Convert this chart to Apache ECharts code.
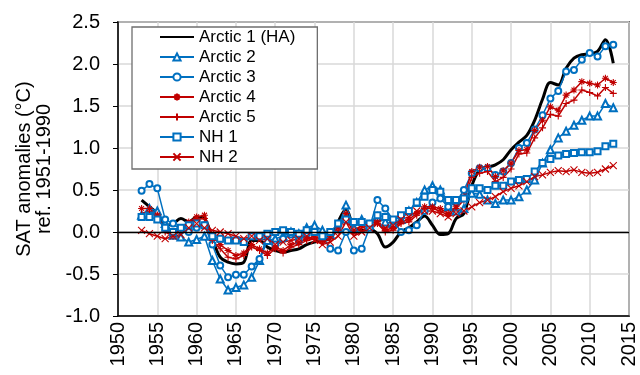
<!DOCTYPE html>
<html>
<head>
<meta charset="utf-8">
<script src="https://cdn.jsdelivr.net/npm/echarts@6/dist/echarts.min.js"></script>
<style>
  html, body { margin: 0; padding: 0; background: #fff; }
  #chart { width: 640px; height: 375px; }
</style>
</head>
<body>
<div id="chart"></div>
<script>
// Years of the annual SAT anomaly records
const years = [
  1953, 1954, 1955, 1956, 1957, 1958, 1959, 1960, 1961, 1962,
  1963, 1964, 1965, 1966, 1967, 1968, 1969, 1970, 1971, 1972,
  1973, 1974, 1975, 1976, 1977, 1978, 1979, 1980, 1981, 1982,
  1983, 1984, 1985, 1986, 1987, 1988, 1989, 1990, 1991, 1992,
  1993, 1994, 1995, 1996, 1997, 1998, 1999, 2000, 2001, 2002,
  2003, 2004, 2005, 2006, 2007, 2008, 2009, 2010, 2011, 2012, 2013
];

// Anomalies (°C) relative to 1951-1990
const arctic1 = [
  0.38, 0.30, 0.22, 0.08, 0.10, 0.16, 0.12, 0.18, 0.16, -0.08,
  -0.30, -0.36, -0.38, -0.36, -0.10, -0.10, -0.18, -0.22, -0.24, -0.22,
  -0.20, -0.15, -0.12, -0.10, -0.08, 0.12, 0.27, 0.06, 0.02, 0.03,
  -0.02, -0.18, -0.12, 0.00, 0.05, 0.12, 0.19, 0.08, -0.03, -0.02,
  0.16, 0.22, 0.55, 0.74, 0.77, 0.80, 0.86, 0.98, 1.07, 1.15,
  1.33, 1.58, 1.78, 1.75, 1.95, 2.07, 2.11, 2.12, 2.15, 2.29, 2.01
];

const arctic2 = [
  0.20, 0.28, 0.25, 0.10, -0.04, -0.06, -0.12, -0.09, -0.05, -0.34,
  -0.56, -0.69, -0.66, -0.63, -0.54, -0.34, -0.10, -0.08, -0.05, 0.00,
  -0.02, 0.05, 0.08, 0.02, -0.03, 0.05, 0.32, 0.05, 0.15, 0.08,
  0.18, 0.12, 0.10, 0.15, 0.25, 0.35, 0.50, 0.55, 0.50, 0.30,
  0.25, 0.28, 0.46, 0.45, 0.38, 0.34, 0.38, 0.38, 0.42, 0.50,
  0.62, 0.82, 0.98, 1.12, 1.20, 1.27, 1.33, 1.38, 1.38, 1.53, 1.48
];

const arctic3 = [
  0.49, 0.57, 0.52, 0.15, 0.10, 0.02, 0.00, 0.05, 0.08, -0.15,
  -0.40, -0.54, -0.51, -0.51, -0.41, -0.32, -0.05, -0.15, -0.08, -0.03,
  -0.10, -0.02, 0.00, -0.05, -0.20, -0.22, 0.00, -0.22, -0.20, 0.05,
  0.38, 0.28, 0.14, 0.00, 0.02, 0.08, 0.25, 0.35, 0.40, 0.30,
  0.35, 0.50, 0.70, 0.76, 0.76, 0.68, 0.72, 0.82, 1.00, 1.06,
  1.22, 1.39, 1.59, 1.68, 1.91, 1.93, 2.05, 2.13, 2.09, 2.21, 2.23
];

const arctic4 = [
  0.28, 0.28, 0.20, 0.02, -0.02, 0.05, 0.12, 0.18, 0.20, -0.05,
  -0.15, -0.22, -0.28, -0.25, -0.15, -0.20, -0.25, -0.18, -0.22, -0.15,
  -0.12, -0.08, -0.05, -0.10, -0.05, 0.05, 0.22, 0.02, 0.08, 0.10,
  0.12, 0.02, 0.05, 0.12, 0.15, 0.22, 0.30, 0.30, 0.28, 0.22,
  0.30, 0.42, 0.72, 0.77, 0.78, 0.66, 0.73, 0.82, 0.97, 0.98,
  1.21, 1.33, 1.49, 1.45, 1.63, 1.69, 1.79, 1.77, 1.75, 1.83, 1.78
];

const arctic5 = [
  0.22, 0.25, 0.20, 0.00, -0.05, 0.02, 0.10, 0.15, 0.16, -0.10,
  -0.20, -0.30, -0.32, -0.28, -0.18, -0.22, -0.28, -0.20, -0.25, -0.18,
  -0.15, -0.10, -0.08, -0.12, -0.08, 0.02, 0.18, -0.02, 0.05, 0.08,
  0.10, 0.00, 0.02, 0.10, 0.12, 0.20, 0.28, 0.28, 0.25, 0.20,
  0.28, 0.38, 0.65, 0.70, 0.72, 0.60, 0.65, 0.75, 0.93, 0.94,
  1.12, 1.24, 1.40, 1.38, 1.53, 1.57, 1.69, 1.66, 1.62, 1.72, 1.65
];

const nh1 = [
  0.18, 0.18, 0.15, 0.05, 0.00, 0.05, 0.08, 0.10, 0.08, -0.05,
  -0.08, -0.10, -0.10, -0.12, -0.05, -0.05, -0.02, 0.00, 0.02, 0.00,
  -0.02, 0.02, 0.00, -0.05, 0.00, 0.10, 0.15, 0.12, 0.12, 0.10,
  0.20, 0.18, 0.15, 0.20, 0.25, 0.35, 0.42, 0.50, 0.48, 0.38,
  0.38, 0.40, 0.52, 0.52, 0.50, 0.55, 0.55, 0.60, 0.62, 0.63,
  0.72, 0.82, 0.87, 0.91, 0.93, 0.94, 0.95, 0.95, 0.96, 1.02, 1.05
];

const nh2 = [
  0.02, -0.02, -0.05, -0.08, -0.05, -0.03, 0.05, 0.10, 0.05, 0.02,
  0.00, -0.02, -0.05, -0.08, -0.05, -0.10, -0.08, -0.15, -0.12, -0.10,
  -0.08, -0.05, -0.10, -0.15, -0.12, -0.05, 0.12, -0.05, 0.00, 0.05,
  0.10, 0.05, 0.08, 0.15, 0.18, 0.25, 0.25, 0.25, 0.22, 0.18,
  0.22, 0.25, 0.30, 0.35, 0.38, 0.42, 0.48, 0.52, 0.55, 0.60,
  0.66, 0.68, 0.71, 0.73, 0.72, 0.74, 0.71, 0.70, 0.71, 0.75, 0.79
];

const seriesNames = ['Arctic 1 (HA)', 'Arctic 2', 'Arctic 3', 'Arctic 4', 'Arctic 5', 'NH 1', 'NH 2'];
const xTicks = { min: 1950, max: 2015, step: 5 };
const yTicks = { min: -1.0, max: 2.5, step: 0.5 };

const BLUE = '#0070C0';
const RED = '#C00000';
const FONT = '"Liberation Sans", Arial, sans-serif';

// Stroke-only marker glyphs
const PLUS = 'path://M0,5 L10,5 M5,0 L5,10';
const CROSS = 'path://M0,0 L10,10 M10,0 L0,10';
const STAR = 'path://M0,5 L10,5 M5,0 L5,10 M1.5,1.5 L8.5,8.5 M8.5,1.5 L1.5,8.5';

function pairs(vals) {
  return years.map((y, i) => [y, vals[i]]);
}

function markerSeries(name, vals, color, symbol, size) {
  return {
    name: name,
    type: 'line',
    data: pairs(vals),
    symbol: symbol,
    symbolSize: size,
    showSymbol: true,
    lineStyle: { color: color, width: 1.5 },
    itemStyle: { color: color, borderColor: color, borderWidth: 1.1 },
    emphasis: { disabled: true }
  };
}

// Legend entries; the smooth HA curve has no marker
const legendData = seriesNames.map((n, i) =>
  i === 0 ? { name: n, itemStyle: { opacity: 0, color: 'transparent', borderWidth: 0 } } : { name: n }
);

const chart = echarts.init(document.getElementById('chart'), null, { renderer: 'canvas' });

chart.setOption({
  animation: false,
  backgroundColor: '#fff',
  textStyle: { fontFamily: FONT },
  grid: {
    left: 118, right: 11, top: 22, bottom: 59,
    show: true, borderColor: '#000', borderWidth: 1.5, backgroundColor: 'transparent'
  },
  legend: {
    orient: 'vertical',
    left: 132, top: 27,
    padding: [0, 22, 2, 27],
    itemGap: 0,
    itemWidth: 34,
    itemHeight: 9,
    backgroundColor: '#fff',
    borderColor: '#6e6e6e',
    borderWidth: 1.3,
    borderRadius: 0,
    textStyle: { fontFamily: FONT, fontSize: 17, color: '#000', lineHeight: 20 },
    data: legendData
  },
  xAxis: {
    type: 'value',
    min: xTicks.min, max: xTicks.max, interval: xTicks.step,
    axisLine: { show: true, onZero: false, lineStyle: { color: '#000', width: 1.5 } },
    axisTick: { show: false },
    splitLine: { show: true, lineStyle: { color: '#d9d9d9', width: 1.5 } },
    axisLabel: {
      rotate: 90, margin: 6, fontSize: 20, color: '#000', fontFamily: FONT,
      formatter: v => String(v)
    }
  },
  yAxis: {
    type: 'value',
    min: yTicks.min, max: yTicks.max, interval: yTicks.step,
    name: 'SAT anomalies (°C)\nref. 1951-1990',
    nameLocation: 'middle',
    nameGap: 53,
    nameTextStyle: { fontSize: 20, color: '#000', lineHeight: 20, fontFamily: FONT },
    axisLine: { show: true, lineStyle: { color: '#000', width: 1.5 } },
    axisTick: { show: true, inside: false, length: 5, lineStyle: { color: '#000', width: 1 } },
    splitLine: { show: true, lineStyle: { color: '#d9d9d9', width: 1.5 } },
    axisLabel: {
      margin: 18, fontSize: 20, color: '#000', fontFamily: FONT,
      formatter: v => v.toFixed(1)
    }
  },
  series: [
    {
      name: seriesNames[0],
      type: 'line',
      data: pairs(arctic1),
      smooth: 0.35,
      symbol: 'none',
      lineStyle: { color: '#000', width: 3 },
      itemStyle: { color: '#000' },
      emphasis: { disabled: true },
      markLine: {
        silent: true,
        symbol: ['none', 'none'],
        label: { show: false },
        lineStyle: { color: '#000', width: 1.3, type: 'solid' },
        data: [{ yAxis: 0 }]
      }
    },
    markerSeries(seriesNames[1], arctic2, BLUE, 'emptyTriangle', 7),
    markerSeries(seriesNames[2], arctic3, BLUE, 'emptyCircle', 6),
    markerSeries(seriesNames[3], arctic4, RED, STAR, 7),
    markerSeries(seriesNames[4], arctic5, RED, PLUS, 7),
    markerSeries(seriesNames[5], nh1, BLUE, 'emptyRect', 6),
    markerSeries(seriesNames[6], nh2, RED, CROSS, 7)
  ]
});
</script>
</body>
</html>
